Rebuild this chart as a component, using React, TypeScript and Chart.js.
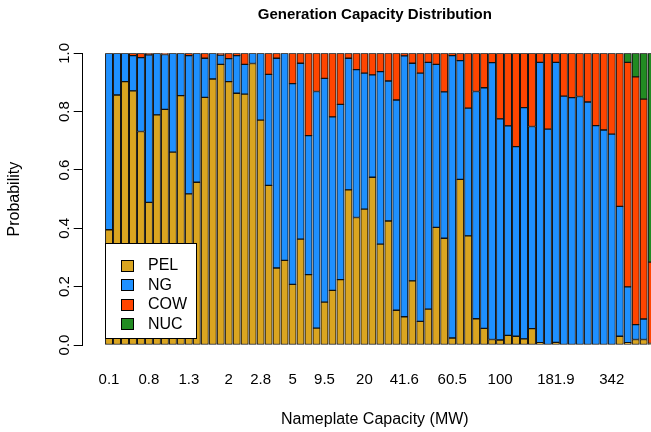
import React, { useEffect, useRef } from "react";
import { Chart, registerables } from "chart.js";

Chart.register(...registerables);

// Share of each fuel type for each nameplate-capacity bin (69 visible bins)
const pel = [
  0.395, 0.857, 0.903, 0.871, 0.732, 0.489, 0.789, 0.808, 0.661, 0.855,
  0.518, 0.558, 0.849, 0.912, 0.962, 0.903, 0.863, 0.86, 0.965, 0.771,
  0.547, 0.264, 0.29, 0.208, 0.363, 0.241, 0.058, 0.147, 0.187, 0.224,
  0.532, 0.437, 0.466, 0.575, 0.346, 0.425, 0.119, 0.097, 0.22, 0.081,
  0.123, 0.403, 0.366, 0.024, 0.568, 0.374, 0.09, 0.057, 0.019, 0.017,
  0.033, 0.03, 0.021, 0.056, 0.008, 0, 0.009, 0, 0, 0,
  0, 0, 0, 0, 0.03, 0.008, 0.019, 0.019, 0.005,
];
const ng = [
  0.605, 0.143, 0.097, 0.121, 0.253, 0.506, 0.211, 0.188, 0.339, 0.145,
  0.474, 0.442, 0.134, 0.088, 0.032, 0.079, 0.129, 0.102, 0.035, 0.229,
  0.381, 0.719, 0.71, 0.688, 0.603, 0.477, 0.811, 0.767, 0.595, 0.601,
  0.451, 0.507, 0.466, 0.351, 0.591, 0.48, 0.721, 0.894, 0.746, 0.851,
  0.846, 0.559, 0.502, 0.968, 0.407, 0.438, 0.779, 0.825, 0.949, 0.758,
  0.718, 0.65, 0.793, 0.693, 0.961, 0.74, 0.96, 0.853, 0.848, 0.852,
  0.833, 0.752, 0.737, 0.723, 0.445, 0.191, 0.051, 0.07, 0,
];
const cow = [
  0, 0, 0, 0.008, 0.015, 0.005, 0, 0.004, 0, 0,
  0.008, 0, 0.017, 0, 0.006, 0.018, 0.008, 0.038, 0, 0,
  0.072, 0.017, 0, 0.104, 0.034, 0.282, 0.131, 0.086, 0.218, 0.175,
  0.017, 0.056, 0.068, 0.074, 0.063, 0.095, 0.16, 0.009, 0.034, 0.068,
  0.031, 0.038, 0.132, 0.008, 0.025, 0.188, 0.131, 0.118, 0.032, 0.225,
  0.249, 0.32, 0.186, 0.251, 0.031, 0.26, 0.031, 0.147, 0.152, 0.148,
  0.167, 0.248, 0.263, 0.277, 0.525, 0.77, 0.849, 0.754, 0.279,
];
const nuc = [
  0, 0, 0, 0, 0, 0, 0, 0, 0, 0,
  0, 0, 0, 0, 0, 0, 0, 0, 0, 0,
  0, 0, 0, 0, 0, 0, 0, 0, 0, 0,
  0, 0, 0, 0, 0, 0, 0, 0, 0, 0,
  0, 0, 0, 0, 0, 0, 0, 0, 0, 0,
  0, 0, 0, 0, 0, 0, 0, 0, 0, 0,
  0, 0, 0, 0, 0, 0.031, 0.081, 0.157, 0.716,
];

// Bin names that appear on the x axis and the bins they sit under
const tickIndex = [0, 5, 10, 15, 19, 23, 27, 32, 37, 43, 49, 56, 63];
const tickLabels = ["0.1", "0.8", "1.3", "2", "2.8", "5", "9.5", "20", "41.6", "60.5", "100", "181.9", "342"];

const seriesNames = ["PEL", "NG", "COW", "NUC"];
const seriesColors = ["#DAA520", "#1E90FF", "#FF4500", "#228B22"];

const FONT = "'Liberation Sans', Arial, Helvetica, sans-serif";

const legendPlugin = {
  id: "insetLegend",
  afterDatasetsDraw(chart: any) {
    const ctx = chart.ctx;
    ctx.save();
    const bx = 105.5, by = 243.5, bw = 91, bh = 95;
    ctx.fillStyle = "#ffffff";
    ctx.fillRect(bx, by, bw, bh);
    ctx.strokeStyle = "#000";
    ctx.lineWidth = 1;
    ctx.strokeRect(bx, by, bw, bh);
    ctx.font = `16px ${FONT}`;
    ctx.textBaseline = "middle";
    ctx.textAlign = "left";
    chart.data.datasets.forEach((ds: any, i: number) => {
      const cy = 265 + i * 19.5;
      ctx.fillStyle = ds.backgroundColor;
      ctx.fillRect(121.5, Math.round(cy - 5.5) + 0.5, 12, 11);
      ctx.strokeRect(121.5, Math.round(cy - 5.5) + 0.5, 12, 11);
      ctx.fillStyle = "#000";
      ctx.fillText(ds.label, 148, cy + 1);
    });
    ctx.restore();
  },
};

export default function App() {
  const ref = useRef<HTMLCanvasElement | null>(null);

  useEffect(() => {
    if (!ref.current) return;
    const series = [pel, ng, cow, nuc];
    const chart = new Chart(ref.current, {
      type: "bar",
      data: {
        datasets: series.map((vals, k) => ({
          label: seriesNames[k],
          data: vals.map((v, i) => ({ x: i, y: v })),
          backgroundColor: seriesColors[k],
          borderColor: "#111",
          borderWidth: 1,
          borderSkipped: false,
          barThickness: 7.3,
        })),
      },
      options: {
        animation: false,
        responsive: false,
        devicePixelRatio: 1,
        layout: { padding: { left: 0, right: 23, top: 0, bottom: 0 } },
        plugins: {
          legend: { display: false },
          tooltip: { enabled: false },
          title: {
            display: true,
            text: "Generation Capacity Distribution",
            fullSize: false,
            color: "#000",
            font: { family: FONT, size: 15, weight: "bold" },
            padding: { top: 5.5, bottom: 29.8 },
          },
        },
        scales: {
          x: {
            type: "linear",
            offset: false,
            stacked: true,
            min: -3.3,
            max: 69.92,
            grid: { display: false, drawTicks: false, offset: false },
            border: { display: false },
            afterBuildTicks: (scale: any) => {
              scale.ticks = tickIndex.map((v) => ({ value: v }));
            },
            afterFit: (scale: any) => {
              scale.height = 87;
            },
            ticks: {
              autoSkip: false,
              maxRotation: 0,
              minRotation: 0,
              padding: 26,
              color: "#000",
              font: { family: FONT, size: 15 },
              callback: (value: any) => {
                const j = tickIndex.indexOf(Math.round(Number(value)));
                return j >= 0 ? tickLabels[j] : "";
              },
            },
            title: {
              display: true,
              text: "Nameplate Capacity (MW)",
              color: "#000",
              font: { family: FONT, size: 16 },
              padding: { top: 0, bottom: 2.4 },
            },
          },
          y: {
            stacked: true,
            min: 0,
            max: 1,
            afterFit: (scale: any) => {
              scale.width = 82.7;
            },
            grid: {
              display: true,
              drawOnChartArea: false,
              drawTicks: true,
              tickLength: 9,
              tickColor: "#000",
              tickWidth: 1,
            },
            border: { display: true, color: "#000", width: 1 },
            ticks: {
              stepSize: 0.2,
              minRotation: 90,
              maxRotation: 90,
              crossAlign: "center",
              padding: -1.5,
              color: "#000",
              font: { family: FONT, size: 15 },
              callback: (value: any) => Number(value).toFixed(1),
            },
            title: {
              display: true,
              text: "Probability",
              color: "#000",
              font: { family: FONT, size: 16 },
              padding: { top: 5.4, bottom: 0 },
            },
          },
        },
      } as any,
      plugins: [legendPlugin],
    });
    return () => chart.destroy();
  }, []);

  return (
    <div
      style={{
        position: "fixed",
        left: 0,
        top: 0,
        width: 651,
        height: 432,
        overflow: "hidden",
        background: "#fff",
      }}
    >
      <canvas ref={ref} width={690} height={432} style={{ display: "block" }} />
    </div>
  );
}
